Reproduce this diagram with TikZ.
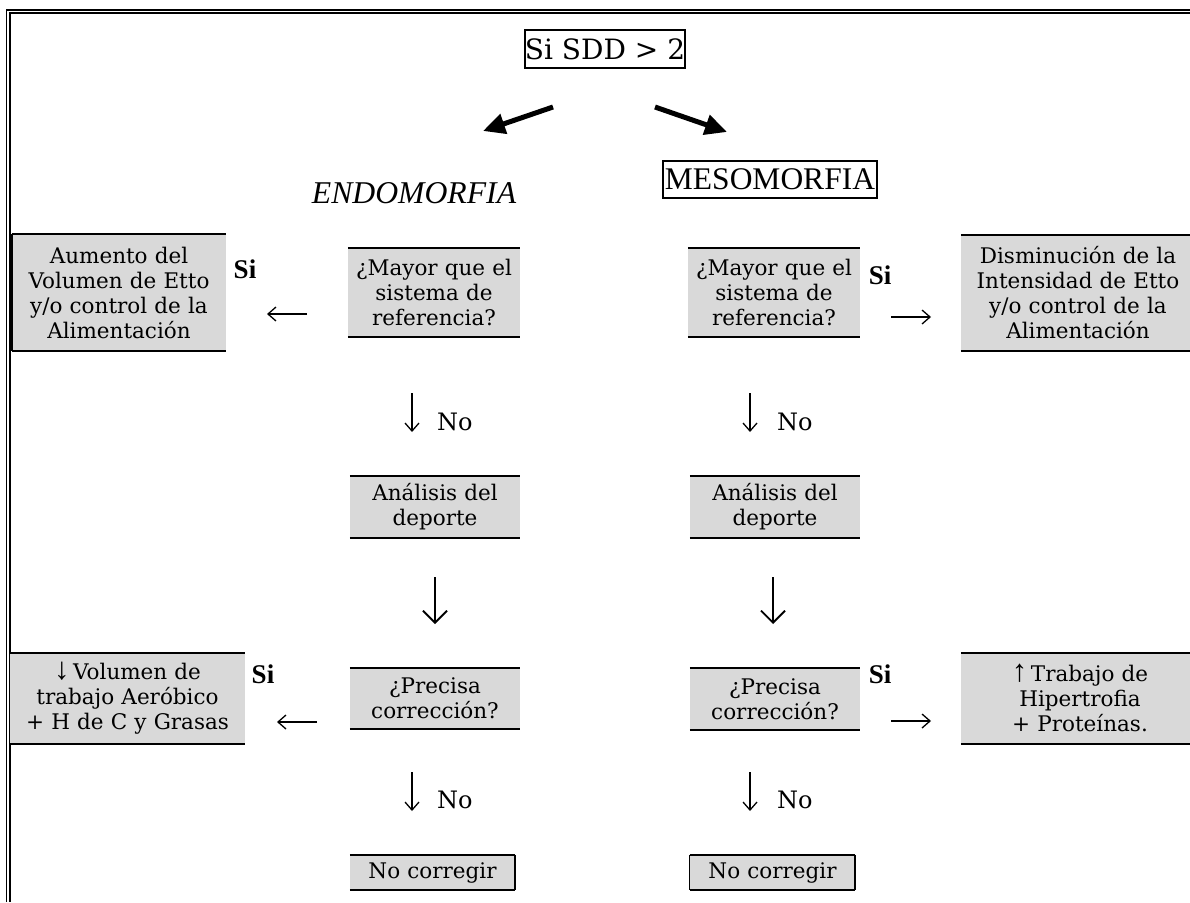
\documentclass[tikz,border=0pt]{standalone}
\usepackage{fontspec}
\setmainfont{DejaVu Serif}
\newfontfamily\tnr{Liberation Serif}
\usetikzlibrary{arrows.meta}
\definecolor{boxgray}{RGB}{217,217,217}
\newcommand{\bigarrowglyph}[1]{\smash{{\tnr\fontsize{31}{31}\selectfont #1}}}
\begin{document}
\begin{tikzpicture}[x=1pt,y=-1pt,
  gbox/.style={fill=boxgray, inner sep=0pt, align=center, font=\fontsize{21.5}{25}\selectfont},
  bline/.style={line width=2.2pt},
  framebox/.style={draw, line width=1.3pt, inner sep=0pt},
  silabel/.style={font=\tnr\bfseries\fontsize{27}{27}\selectfont, inner sep=0pt},
  nolabel/.style={font=\fontsize{24}{24}\selectfont, inner sep=0pt},
  thinarrow/.style={line width=1.3pt, -{Straight Barb[length=8pt,width=14pt]}},
  bigthinarrow/.style={line width=1.8pt, -{Straight Barb[length=12pt,width=24pt]}},
  thickarrow/.style={line width=5pt, -{Triangle[length=22pt,width=20pt]}}]
\useasboundingbox (0,0) rectangle (1190,902);
% frame (top and left)
\draw[line width=1.3pt] (6.5,902) -- (6.5,10) -- (1190,10);
\draw[line width=2.4pt] (10,902) -- (10,13) -- (1190,13);

% title and branches
\node[framebox, minimum width=156pt, minimum height=38pt, font=\fontsize{28}{28}\selectfont] (sdd) at (605,49) {Si SDD > 2};
\node[inner sep=0pt, anchor=base, font=\tnr\itshape\fontsize{31.7}{32}\selectfont] (endo) at (414,203) {ENDOMORFIA};
\node[framebox, minimum width=214pt, minimum height=37pt, font=\tnr\fontsize{31.5}{32}\selectfont] (meso) at (770,179.5) {MESOMORFIA};
\coordinate (la) at (553,107);
\coordinate (lb) at (483,131);
\coordinate (ra) at (655,107);
\coordinate (rb) at (727,132);
\draw[thickarrow] (la) -- (lb);
\draw[thickarrow] (ra) -- (rb);

% boxes
\node[gbox, minimum width=214pt, minimum height=117pt, text width=214pt] (aum) at (119,292.5) {Aumento del\\Volumen de Etto\\y/o control de la\\Alimentación};
\node[gbox, minimum width=172pt, minimum height=89pt, text width=172pt] (may1) at (434,292.5) {¿Mayor que el\\sistema de\\referencia?};
\node[gbox, minimum width=172pt, minimum height=89pt, text width=172pt] (may2) at (774,292.5) {¿Mayor que el\\sistema de\\referencia?};
\node[gbox, minimum width=234pt, minimum height=116pt, text width=234pt] (dis) at (1078,293) {Disminución de la\\Intensidad de Etto\\y/o control de la\\Alimentación};
\node[gbox, minimum width=170pt, minimum height=62pt, text width=170pt] (ana1) at (435,507) {Análisis del\\deporte};
\node[gbox, minimum width=170pt, minimum height=62pt, text width=170pt] (ana2) at (775,507) {Análisis del\\deporte};
\node[gbox, minimum width=170pt, minimum height=61pt, text width=170pt] (pre1) at (435,698.5) {¿Precisa\\corrección?};
\node[gbox, minimum width=170pt, minimum height=62pt, text width=170pt] (pre2) at (775,699) {¿Precisa\\corrección?};
\node[gbox, minimum width=235pt, minimum height=91pt, text width=235pt] (vol) at (127.5,698.5) {\bigarrowglyph{↓}\,Volumen de\\trabajo Aeróbico\\+ H de C y Grasas};
\node[gbox, minimum width=238pt, minimum height=91pt, text width=238pt] (tra) at (1080,698.5) {\bigarrowglyph{↑}\,Trabajo de\\Hipertrofia\\+ Proteínas.};
\node[gbox, minimum width=165pt, minimum height=35pt, text width=165pt] (noc1) at (432.5,872.5) {No corregir};
\node[gbox, minimum width=165pt, minimum height=35pt, text width=165pt] (noc2) at (772.5,872.5) {No corregir};

\foreach \n in {aum,may1,may2,dis,ana1,ana2,pre1,pre2,vol,tra,noc1,noc2}
  \draw[bline] (\n.north west) -- (\n.north east) (\n.south west) -- (\n.south east);
\draw[bline] (aum.north west) -- (aum.south west);
\draw[bline] (noc1.north east) -- (noc1.south east);
\draw[bline] (noc2.north east) -- (noc2.south east);
\draw[line width=1pt] (noc2.north west) -- (noc2.south west);

% Si labels
\node[silabel] (si1) at (245,269) {Si};
\node[silabel] (si2) at (880,275) {Si};
\node[silabel] (si3) at (263,674) {Si};
\node[silabel] (si4) at (880,674) {Si};

% horizontal arrows
\coordinate (al1s) at (307,314); \coordinate (al1e) at (267,314);
\coordinate (ar1s) at (891,317); \coordinate (ar1e) at (931,317);
\coordinate (al2s) at (317,722); \coordinate (al2e) at (277,722);
\coordinate (ar2s) at (891,721); \coordinate (ar2e) at (931,721);
\draw[thinarrow] (al1s) -- (al1e);
\draw[thinarrow] (ar1s) -- (ar1e);
\draw[thinarrow] (al2s) -- (al2e);
\draw[thinarrow] (ar2s) -- (ar2e);

% down arrows with No
\coordinate (dn1s) at (412,393); \coordinate (dn1e) at (412,432);
\coordinate (dn2s) at (750,393); \coordinate (dn2e) at (750,432);
\coordinate (dn3s) at (412,772); \coordinate (dn3e) at (412,811);
\coordinate (dn4s) at (750,772); \coordinate (dn4e) at (750,811);
\draw[thinarrow] (dn1s) -- (dn1e);
\draw[thinarrow] (dn2s) -- (dn2e);
\draw[thinarrow] (dn3s) -- (dn3e);
\draw[thinarrow] (dn4s) -- (dn4e);
\node[nolabel, anchor=base west] (no1) at (437,430) {No};
\node[nolabel, anchor=base west] (no2) at (777,430) {No};
\node[nolabel, anchor=base west] (no3) at (437,808) {No};
\node[nolabel, anchor=base west] (no4) at (777,808) {No};

% big down arrows
\coordinate (bd1s) at (435,577); \coordinate (bd1e) at (435,624);
\coordinate (bd2s) at (773,577); \coordinate (bd2e) at (773,624);
\draw[bigthinarrow] (bd1s) -- (bd1e);
\draw[bigthinarrow] (bd2s) -- (bd2e);
\end{tikzpicture}
\end{document}
